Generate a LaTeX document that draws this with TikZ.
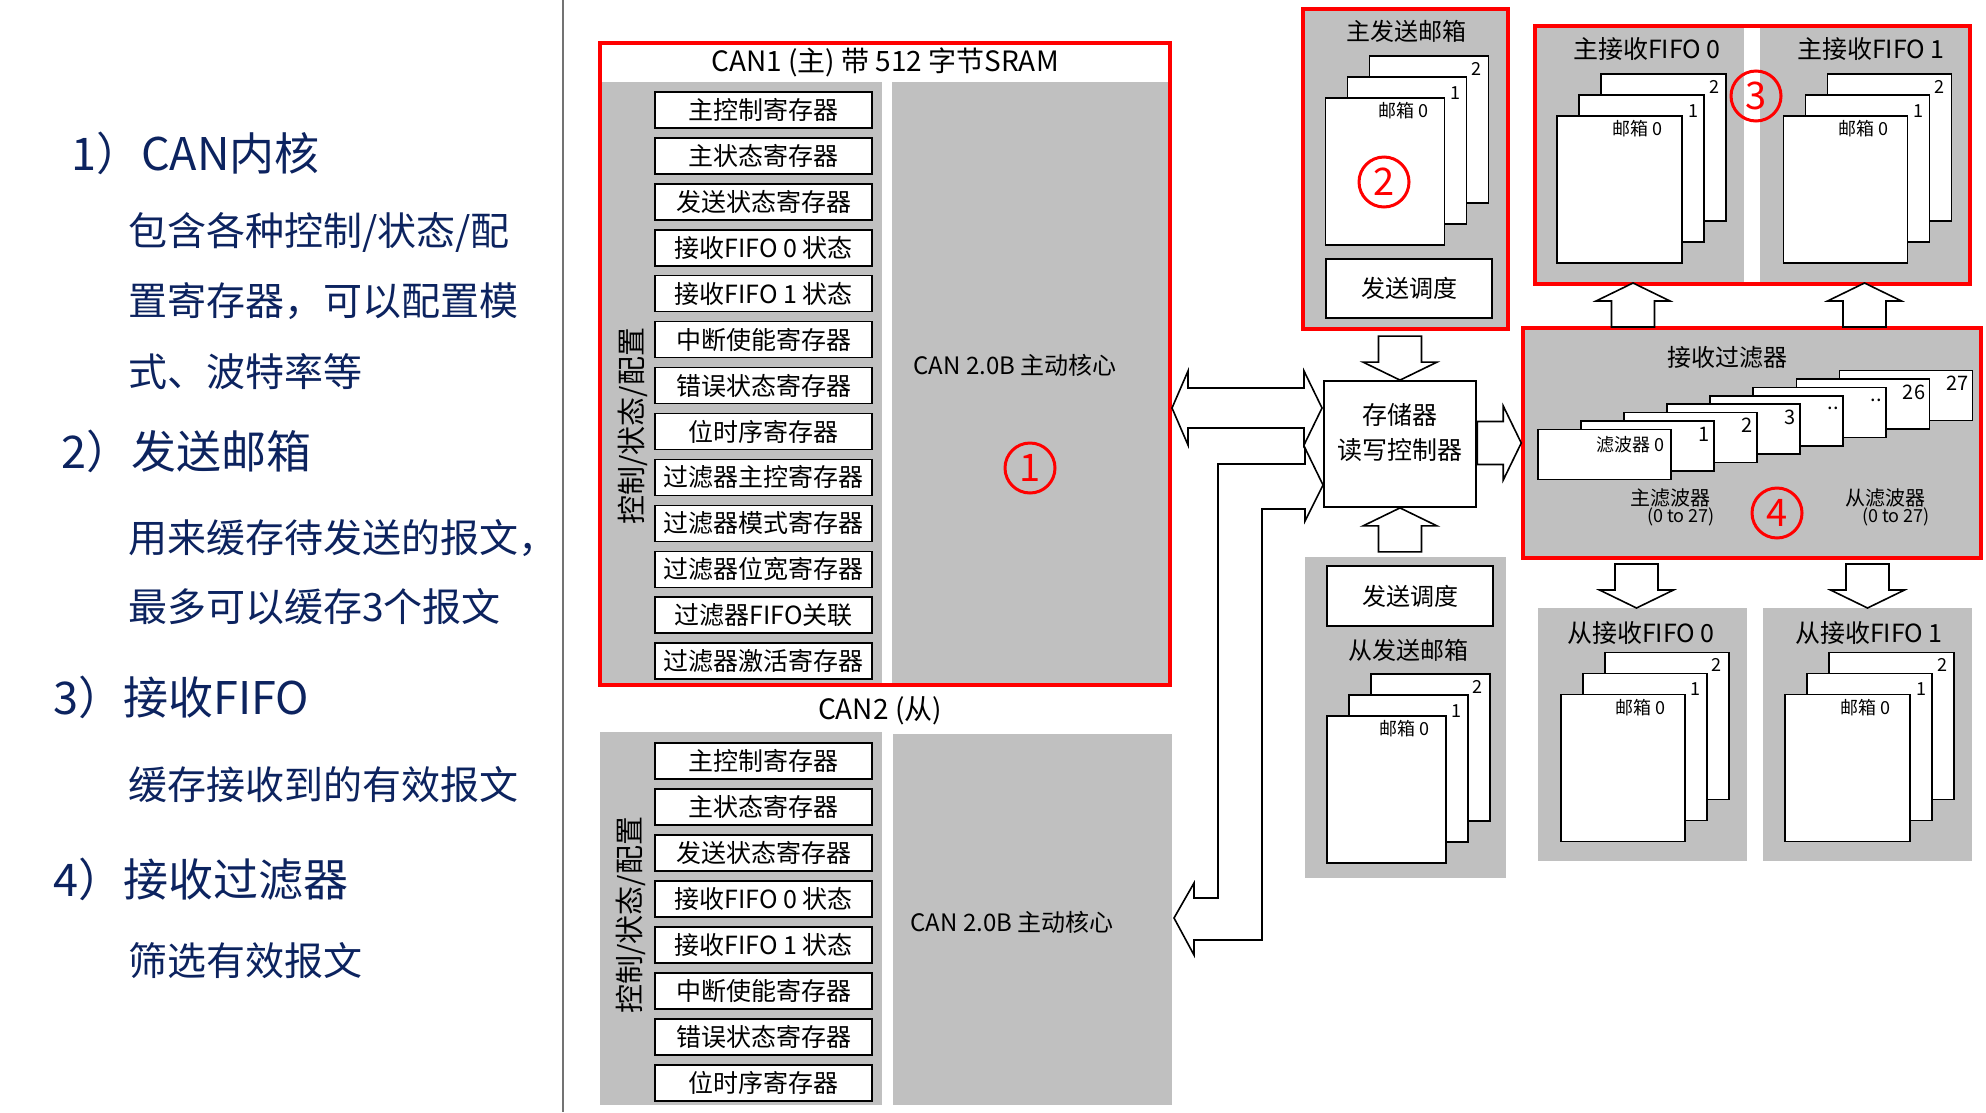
\documentclass[tikz,border=0pt]{standalone}
\usepackage{fontspec}
\setmainfont{Noto Sans CJK SC}
\usepackage{tikz}
\usetikzlibrary{calc}
\definecolor{canGray}{RGB}{192,192,192}
\definecolor{textnavy}{RGB}{12,35,95}
\newcommand{\pxfont}[1]{\fontsize{#1}{#1}\selectfont}
\tikzset{
panel/.style={
fill=canGray,
draw=none,
inner sep=0pt,
outer sep=0pt
},
redbox/.style={
draw=red,
line width=3.5pt,
inner sep=0pt
},
reg/.style={
draw,
fill=white,
line width=1.8pt,
minimum width=217pt,
minimum height=36pt,
inner sep=0pt,
font=\pxfont{25}
},
sched/.style={
draw,
fill=white,
line width=1.8pt,
minimum width=166pt,
minimum height=59pt,
inner sep=0pt,
font=\pxfont{24}
},
card/.style={
draw,
fill=white,
line width=1.6pt
},
lbl/.style={font=\pxfont{24},inner sep=0pt},
fifolbl/.style={font=\pxfont{25},inner sep=0pt},
ttl/.style={font=\pxfont{28},inner sep=0pt},
vlbl/.style={font=\pxfont{29},inner sep=0pt,rotate=90},
tinylbl/.style={font=\pxfont{18},inner sep=0pt},
flbl/.style={font=\pxfont{20},inner sep=0pt},
circnum/.style={
circle,
draw=red,
line width=3pt,
text=red,
minimum size=50pt,
inner sep=0pt,
font=\pxfont{38}
},
lhead/.style={anchor=west,inner sep=0pt,text=textnavy,font=\pxfont{45}},
lbody/.style={anchor=west,inner sep=0pt,text=textnavy,font=\pxfont{39}},
blockarrow/.style={
draw,
fill=white,
line width=1.6pt,
line join=miter
},
pics/bigarrow/.style={code={
\draw[blockarrow] (0,0) -- (-18,-37) -- (-18,-21.5) -- (-44,-21.5) -- (-44,21.5) -- (-18,21.5) -- (-18,37) -- cycle;
}},
pics/mbstack/.style={code={
\draw[card] (44,-42) rectangle ++(#1,147);
\draw[card] (22,-21) rectangle ++(#1,147);
\draw[card] (0,0) rectangle ++(#1,147);
\node[tinylbl] (-l2) at (#1+32,-29) {2};
\node[tinylbl] (-l1) at (#1+11,-5) {1};
\node[tinylbl] (-l0) at (#1/2+18,13) {邮箱 0};
}}
}

\begin{document}
\begin{tikzpicture}[x=1pt,y=-1pt]
\useasboundingbox (0,0) rectangle (1986,1112);

% left column
\node[lhead] (h1) at (71,153) {1）CAN内核};
\node[lbody] (b1a) at (128,232.5) {包含各种控制/状态/配};
\node[lbody] (b1b) at (128,301.5) {置寄存器，可以配置模};
\node[lbody] (b1c) at (128,371.5) {式、波特率等};
\node[lhead] (h2) at (61,451) {2）发送邮箱};
\node[lbody] (b2a) at (128,538) {用来缓存待发送的报文，};
\node[lbody] (b2b) at (128,606.5) {最多可以缓存3个报文};
\node[lhead] (h3) at (53,697) {3）接收FIFO};
\node[lbody] (b3) at (128,785) {缓存接收到的有效报文};
\node[lhead] (h4) at (53,879) {4）接收过滤器};
\node[lbody] (b4) at (128,961) {筛选有效报文};
\draw[black!55,line width=2pt] (563,0) -- (563,1112);

% CAN1
\fill[canGray] (602,82) rectangle (882,683);
\fill[canGray] (892,82) rectangle (1168,683);
\draw[redbox] (600,43) rectangle (1170,685);
\node[ttl] (can1) at (885,62) {CAN1 (主) 带 512 字节SRAM};
\node[vlbl] (cfg1) at (633,426) {控制/状态/配置};
\foreach \txt [count=\i] in {主控制寄存器,主状态寄存器,发送状态寄存器,接收FIFO 0 状态,接收FIFO 1 状态,中断使能寄存器,错误状态寄存器,位时序寄存器,过滤器主控寄存器,过滤器模式寄存器,过滤器位宽寄存器,过滤器FIFO关联,过滤器激活寄存器}
\node[reg] (ra\i) at (763.5,109.7+45.97*\i-45.97) {\txt};
\node[lbl] (core1) at (1015,365) {CAN 2.0B 主动核心};
\node[circnum] (n1) at (1030,468) {1};

% CAN2
\node[ttl] (can2) at (880,711) {CAN2 (从)};
\fill[canGray] (600,732) rectangle (882,1105);
\fill[canGray] (893,734) rectangle (1172,1105);
\node[vlbl] (cfg2) at (631,915) {控制/状态/配置};
\foreach \txt [count=\i] in {主控制寄存器,主状态寄存器,发送状态寄存器,接收FIFO 0 状态,接收FIFO 1 状态,中断使能寄存器,错误状态寄存器,位时序寄存器}
\node[reg] (rb\i) at (763.5,761+46*\i-46) {\txt};
\node[lbl] (core2) at (1012,922) {CAN 2.0B 主动核心};

% master transmit mailboxes
\draw[redbox,fill=canGray] (1303,9) rectangle (1508,329);
\node[lbl] (txm) at (1406,31) {主发送邮箱};
\pic (mbm) at (1325.5,97.7) {mbstack=119};
\node[circnum] (n2) at (1384,182) {2};
\node[sched] (schm) at (1409,288.5) {发送调度};

% master receive FIFOs
\node[panel,minimum width=208pt,minimum height=256pt] (rx0) at (1640,155) {};
\node[panel,minimum width=209pt,minimum height=256pt] (rx1) at (1864.5,155) {};
\draw[redbox] (1535,26) rectangle (1970,284);
\node[fifolbl] (rx0t) at (1647,49) {主接收FIFO 0};
\node[fifolbl] (rx1t) at (1871,49) {主接收FIFO 1};
\pic (mb0) at (1557.2,116) {mbstack=125};
\pic (mb1) at (1783.6,116) {mbstack=124};
\node[circnum] (n3) at (1756,96) {3};

% receive filters
\node[redbox,fill=canGray,minimum width=458pt,minimum height=230pt] (filt) at (1752,443) {};
\node[lbl] (filtt) at (1727,357) {接收过滤器};
\foreach \i/\lab in {7/27,6/26,5/..,4/..,3/3,2/2,1/1}{
\draw[card] (1537.7+43.1*\i,429.3-8.4*\i) rectangle ++(133,50);
\node[flbl,anchor=east] (fl\i) at (1537.7+43.1*\i+129,429.3-8.4*\i+13) {\lab};
}
\draw[card] (1537.7,429.3) rectangle ++(133,50);
\node[tinylbl,anchor=east] (fl0) at (1665,445) {滤波器 0};
\node[flbl] (fm) at (1670,498) {主滤波器};
\node[tinylbl] (fmr) at (1681,517) {(0 to 27)};
\node[flbl] (fs) at (1885,498) {从滤波器};
\node[tinylbl] (fsr) at (1896,517) {(0 to 27)};
\node[circnum] (n4) at (1777,513) {4};

% memory controller
\node[draw,fill=white,line width=1.8pt,minimum width=152pt,minimum height=126pt] (ctrl) at (1400,444) {};
\node[font=\fontsize{25}{35}\selectfont,align=center,inner sep=0pt] (ctrlt) at ([yshift=11pt]ctrl.center) {存储器\\读写控制器};

% slave transmit mailboxes
\fill[canGray] (1305,557) rectangle (1506,878);
\node[sched,minimum height=60pt] (schs) at (1410,596) {发送调度};
\node[lbl] (txs) at (1408,650) {从发送邮箱};
\pic (mbs) at (1326.8,715.7) {mbstack=119};

% slave receive FIFOs
\node[panel,minimum width=209pt,minimum height=253pt] (srx0) at (1642.5,734.5) {};
\node[panel,minimum width=209pt,minimum height=253pt] (srx1) at (1867.5,734.5) {};
\node[fifolbl] (srx0t) at (1641,633) {从接收FIFO 0};
\node[fifolbl] (srx1t) at (1869,633) {从接收FIFO 1};
\pic (smb0) at (1560.7,694.3) {mbstack=124};
\pic (smb1) at (1785,694.3) {mbstack=125};

% block arrows
\pic[rotate=-90] at (ctrl.north) {bigarrow};
\pic[rotate=90] at (ctrl.south) {bigarrow};
\pic at (filt.west) {bigarrow};
\pic[rotate=90] at ([xshift=-7pt]rx0.south) {bigarrow};
\pic[rotate=90] at (rx1.south) {bigarrow};
\pic[rotate=-90] at ([xshift=-6pt]srx0.north) {bigarrow};
\pic[rotate=-90] at (srx1.north) {bigarrow};

\coordinate (dl) at (1172,408);
\coordinate (dr) at (1322,408);
\draw[blockarrow] (dl) -- ++(16,-37) -- ++(0,17) -- ($(dr)+(-18,-20)$) -- ++(0,-17) -- (dr) -- ++(-18,37) -- ++(0,-17) -- ($(dl)+(16,20)$) -- ++(0,17) -- cycle;

\coordinate (lt) at (1323,485);
\coordinate (lb) at (1174,918);
\draw[blockarrow] (lt) -- ++(-18,-37) -- ++(0,16) -- (1218,464) -- (1218,898) -- ($(lb)+(20,-20)$) -- ++(0,-15) -- (lb) -- ++(20,37) -- ++(0,-15) -- (1262,940) -- (1262,509) -- ($(lt)+(-18,24)$) -- ++(0,12) -- cycle;
\end{tikzpicture}
\end{document}
